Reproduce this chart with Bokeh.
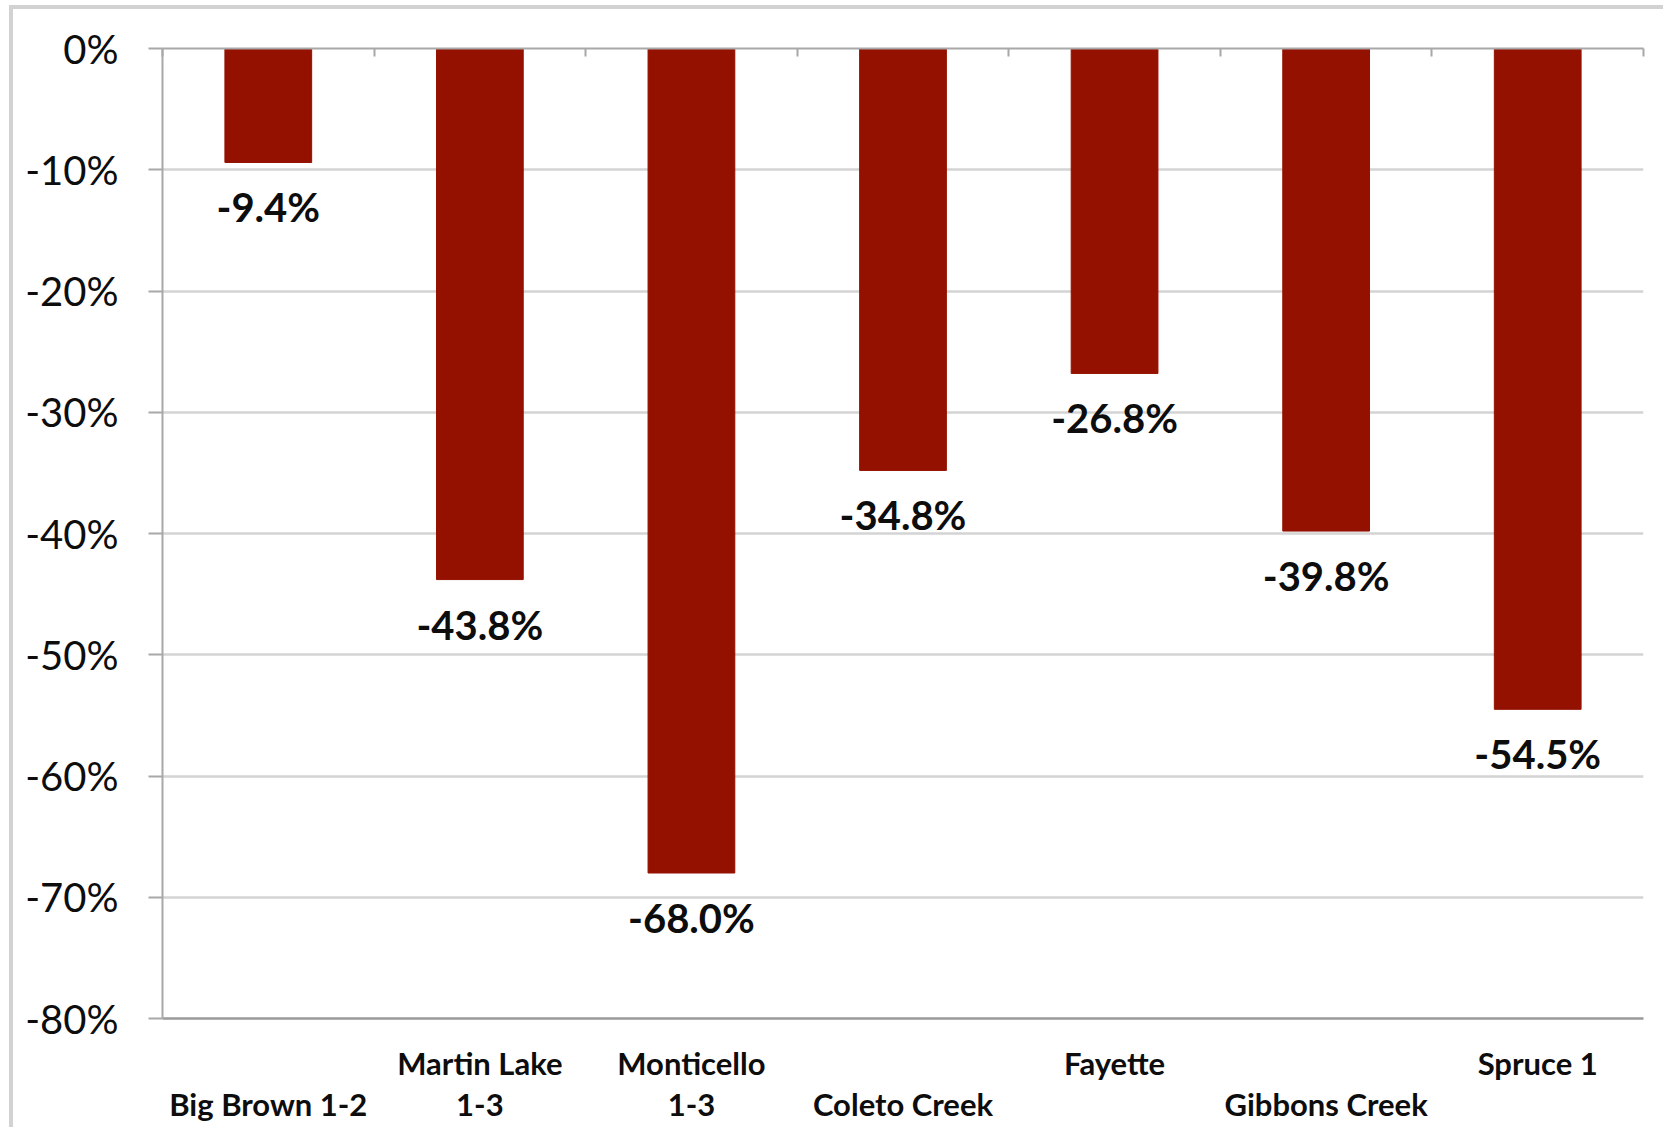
from bokeh.plotting import figure
from bokeh.models import (ColumnDataSource, Range1d, FixedTicker, PrintfTickFormatter,
                          LinearAxis, LabelSet)
from bokeh.core.properties import value
from bokeh.embed import file_html
from bokeh.resources import INLINE

# ---- data ----
plants = ["Big Brown 1-2", "Martin Lake 1-3", "Monticello 1-3", "Coleto Creek",
          "Fayette", "Gibbons Creek", "Spruce 1"]
change_pct = [-9.4, -43.8, -68.0, -34.8, -26.8, -39.8, -54.5]
label_upper = ["", "Martin Lake", "Monticello", "", "Fayette", "", "Spruce 1"]
label_lower = ["Big Brown 1-2", "1-3", "1-3", "Coleto Creek", "", "Gibbons Creek", ""]
y_ticks = [0, -10, -20, -30, -40, -50, -60, -70, -80]

FONT = "Lato"
BAR = "#941100"
GRID = "#d4d4d4"
AXIS = "#a8a8a8"
TXT = "#0d0d0d"

n = len(plants)
xs = [i + 0.5 for i in range(n)]

OFF_X, OFF_Y = 13, 9   # canvas offset created by the css margin + border
W, H = 1671 - OFF_X - 4, 1135 - OFF_Y - 4
p = figure(width=W, height=H, output_backend="svg", toolbar_location=None,
           x_range=Range1d(0, n), y_range=Range1d(min(y_ticks), max(y_ticks)),
           min_border_left=162 - OFF_X, min_border_right=W - (1643 - OFF_X),
           min_border_top=48 - OFF_Y, min_border_bottom=H - (1018 - OFF_Y))
p.styles = {"margin-left": "9px", "margin-top": "5px",
            "border-left": "4px solid #d2d2d2", "border-top": "4px solid #d2d2d2"}
p.outline_line_color = None
p.background_fill_color = "white"
p.border_fill_color = "white"

src = ColumnDataSource(dict(x=xs, top=[0] * n, bottom=change_pct, plant=plants,
                            lab=["%.1f%%" % v for v in change_pct]))
p.vbar(x="x", top="top", bottom="bottom", width=0.41, source=src,
       fill_color=BAR, line_color=BAR)

# grid
p.xgrid.visible = False
p.ygrid.ticker = FixedTicker(ticks=y_ticks)
p.ygrid.grid_line_color = GRID
p.ygrid.grid_line_width = 2.5

# y axis
ya = p.yaxis[0]
ya.ticker = FixedTicker(ticks=y_ticks)
ya.formatter = PrintfTickFormatter(format="%d%%")
ya.major_tick_in = 0
ya.major_tick_out = 14
ya.minor_tick_line_color = None
ya.major_tick_line_color = AXIS
ya.major_tick_line_width = 2
ya.axis_line_color = AXIS
ya.axis_line_width = 2
ya.major_label_standoff = 30
ya.major_label_text_font = FONT
ya.major_label_text_font_size = "40px"
ya.major_label_text_color = TXT

# bottom axis 1: line at -80% + upper line of category labels
up_ticks = [xs[i] for i in range(n) if label_upper[i]]
xa = p.xaxis[0]
xa.ticker = FixedTicker(ticks=up_ticks)
xa.major_label_overrides = {xs[i]: label_upper[i] for i in range(n) if label_upper[i]}
xa.major_tick_in = 0
xa.major_tick_out = 0
xa.major_tick_line_color = None
xa.minor_tick_line_color = None
xa.axis_line_color = "#9a9a9a"
xa.axis_line_width = 2.5
xa.major_label_standoff = 25
xa.major_label_text_font = FONT
xa.major_label_text_font_style = "bold"
xa.major_label_text_font_size = "31px"
xa.major_label_text_color = TXT

# bottom axis 2: lower line of category labels
low_ticks = [xs[i] for i in range(n) if label_lower[i]]
xb = LinearAxis(ticker=FixedTicker(ticks=low_ticks))
xb.major_label_overrides = {xs[i]: label_lower[i] for i in range(n) if label_lower[i]}
xb.major_tick_in = 0
xb.major_tick_out = 0
xb.major_tick_line_color = None
xb.minor_tick_line_color = None
xb.axis_line_color = None
xb.major_label_standoff = 0
xb.major_label_text_font = FONT
xb.major_label_text_font_style = "bold"
xb.major_label_text_font_size = "31px"
xb.major_label_text_color = TXT
p.add_layout(xb, "below")

# top category axis at 0% with inward ticks between categories
top_ax = LinearAxis(ticker=FixedTicker(ticks=list(range(n + 1))))
top_ax.major_label_overrides = {i: "" for i in range(n + 1)}
top_ax.major_tick_in = 8
top_ax.major_tick_out = 0
top_ax.minor_tick_line_color = None
top_ax.major_tick_line_color = AXIS
top_ax.major_tick_line_width = 2
top_ax.axis_line_color = AXIS
top_ax.axis_line_width = 2
top_ax.major_label_standoff = 0
p.add_layout(top_ax, "above")

# value labels under bars
p.add_layout(LabelSet(x="x", y="bottom", text="lab", source=src, y_offset=-45,
                      text_align="center", text_baseline="middle",
                      text_font=value(FONT), text_font_style="bold",
                      text_font_size="40px", text_color=TXT))

open("out.html", "w").write(file_html(p, INLINE))
